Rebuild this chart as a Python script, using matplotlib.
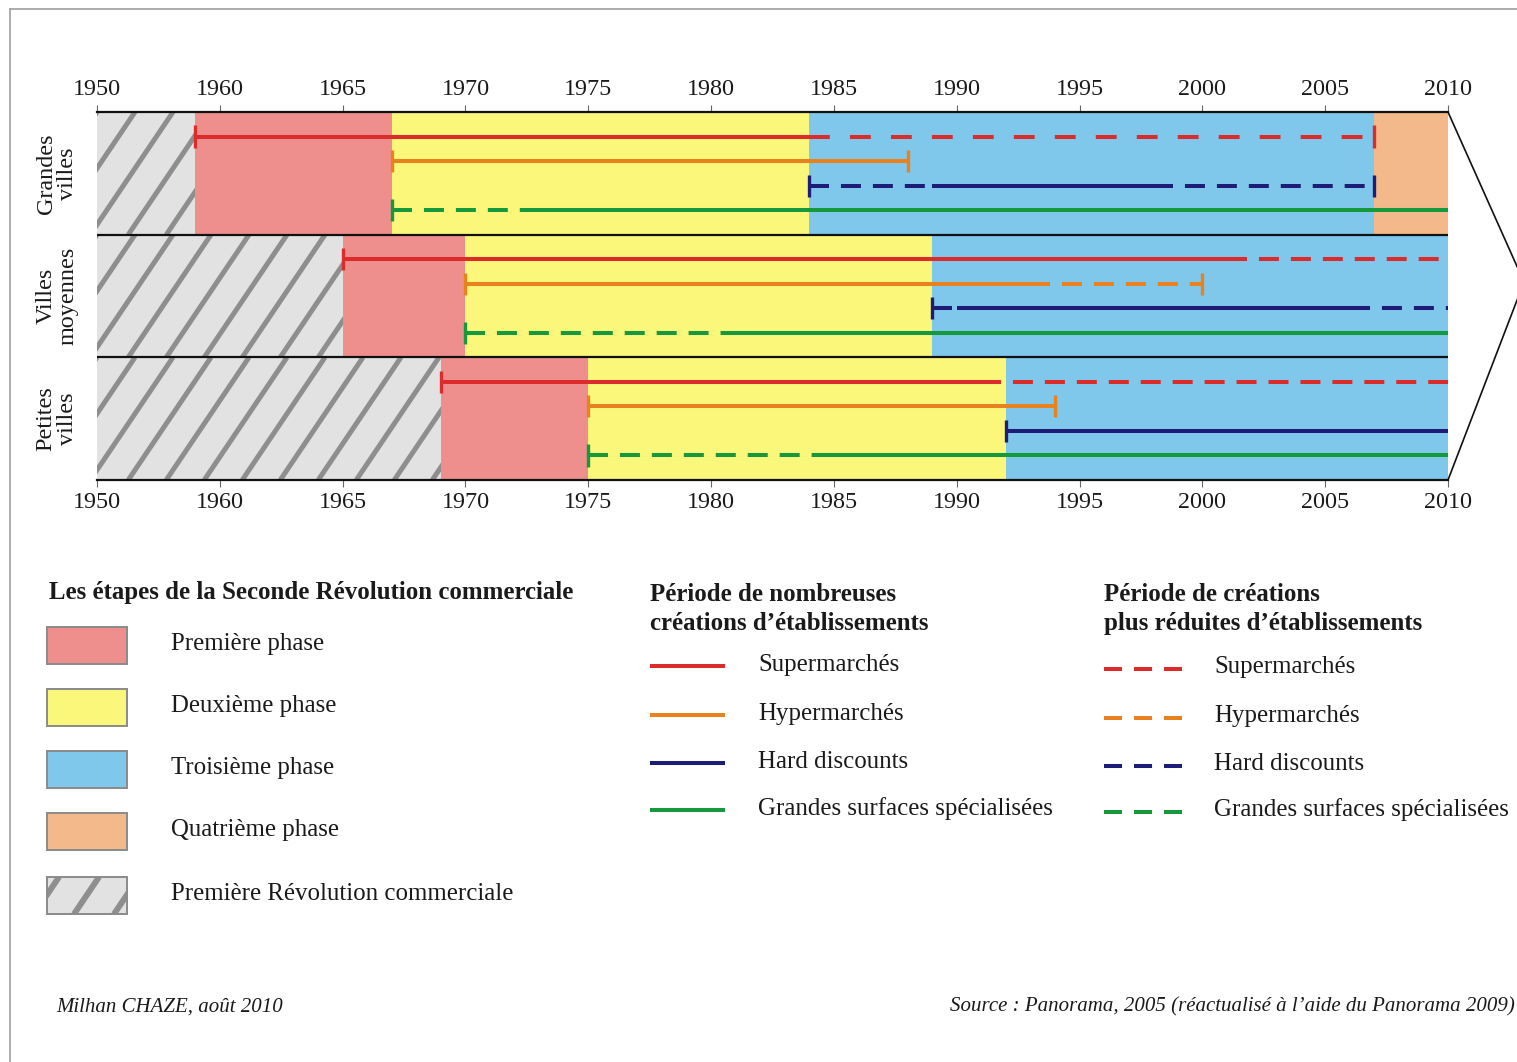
import numpy as np
import matplotlib
matplotlib.use("Agg")
import matplotlib.pyplot as plt
from matplotlib.patches import Rectangle
from matplotlib.lines import Line2D
from matplotlib.transforms import IdentityTransform, blended_transform_factory

plt.rcParams['font.family'] = ['Liberation Serif', 'DejaVu Serif']
plt.rcParams['lines.scale_dashes'] = False

# ---------------- data ----------------
tick_years = [1955, 1960, 1965, 1970, 1975, 1980, 1985, 1990, 1995, 2000, 2005, 2010]
tick_labels = ['1950', '1960', '1965', '1970', '1975', '1980', '1985', '1990',
               '1995', '2000', '2005', '2010']
start_year = 1955
end_year = 2010

cities = ['Grandes\nvilles', 'Villes\nmoyennes', 'Petites\nvilles']
first_revolution_end = [1959, 1965, 1969]
phase1_end = [1967, 1970, 1975]
phase2_end = [1984, 1989, 1992]
phase3_end = [2007, 2010, 2010]

# segments per city: (start, end, style)
supermarches = [[(1959, 1984, 'solid'), (1984, 2007, 'dashed_wide')],
                [(1965, 2001, 'solid'), (2001, 2010, 'dashed')],
                [(1969, 1991, 'solid'), (1991, 2010, 'dashed')]]
hypermarches = [[(1967, 1988, 'solid')],
                [(1970, 1993, 'solid'), (1993, 2000, 'dashed')],
                [(1975, 1994, 'solid')]]
hard_discounts = [[(1984, 1989, 'dashed'), (1989, 1998, 'solid'), (1998, 2007, 'dashed')],
                  [(1989, 1990, 'dashed'), (1990, 2006, 'solid'), (2006, 2010, 'dashed')],
                  [(1992, 2010, 'solid')]]
grandes_surfaces = [[(1967, 1972.5, 'dashed'), (1972.5, 2010, 'solid')],
                    [(1970, 1981, 'dashed'), (1981, 2010, 'solid')],
                    [(1975, 1984.5, 'dashed'), (1984.5, 2010, 'solid')]]

series_names = ['Supermarchés', 'Hypermarchés', 'Hard discounts', 'Grandes surfaces spécialisées']
phase_names = ['Première phase', 'Deuxième phase', 'Troisième phase', 'Quatrième phase',
               'Première Révolution commerciale']

# ---------------- styles ----------------
PINK = '#ef8f8d'
YELLOW = '#fbf77b'
BLUE = '#7fc8ec'
PEACH = '#f3b98a'
HATCH_BG = '#e2e2e2'
STRIPE = '#8e8e8e'
RED = '#dc2b2b'
ORANGE = '#e8821e'
NAVY = '#1d1d78'
GREEN = '#16993c'
TXT = '#1a1a1a'
series_colors = [RED, ORANGE, NAVY, GREEN]
series_data = [supermarches, hypermarches, hard_discounts, grandes_surfaces]

LW = 2.9
DASH_STYLES = {'dashed': (14.4, 8.6), 'dashed_wide': (15.0, 14.5)}
STRIPE_ANGLE = np.radians(56)

W, H = 1517, 1062
fig = plt.figure(figsize=(W / 100, H / 100), dpi=100)
ax = fig.add_axes([97 / W, 1 - 480 / H, 1351 / W, 368 / H])
ax.set_xlim(start_year, end_year)
ax.set_ylim(len(cities), 0)

n = len(cities)
ypos = np.arange(n) + 0.5
fr = np.array(first_revolution_end, float)
p1 = np.array(phase1_end, float)
p2 = np.array(phase2_end, float)
p3 = np.array(phase3_end, float)

hatch_bars = ax.barh(ypos, fr - start_year, left=start_year, height=1.0,
                     color=HATCH_BG, edgecolor='none', zorder=1)
ax.barh(ypos, p1 - fr, left=fr, height=1.0, color=PINK, edgecolor='none', zorder=1)
ax.barh(ypos, p2 - p1, left=p1, height=1.0, color=YELLOW, edgecolor='none', zorder=1)
ax.barh(ypos, p3 - p2, left=p2, height=1.0, color=BLUE, edgecolor='none', zorder=1)
ax.barh(ypos, end_year - p3, left=p3, height=1.0, color=PEACH, edgecolor='none', zorder=1)


def add_stripes(axes, patch, spacing, lw, transform_fn, offset=0.0):
    x0, y0 = patch.get_x(), patch.get_y()
    x1, y1 = x0 + patch.get_width(), y0 + patch.get_height()
    (px0, py0), (px1, py1) = transform_fn([(x0, y0), (x1, y1)])
    ylo, yhi = sorted([py0, py1])
    xlo, xhi = sorted([px0, px1])
    run = (yhi - ylo) / np.tan(STRIPE_ANGLE)
    for xs in np.arange(xlo - run - spacing + offset, xhi + spacing, spacing):
        ln = Line2D([xs, xs + run], [ylo, yhi], transform=IdentityTransform(),
                    color=STRIPE, lw=lw, solid_capstyle='butt', zorder=1.5)
        axes.add_line(ln)
        ln.set_clip_path(patch)


for bar in hatch_bars:
    if bar.get_width() > 0:
        add_stripes(ax, bar, 38, 3.6, ax.transData.transform)

# band separators
for b in range(1, n):
    ax.axhline(b, color='#111111', lw=1.6, zorder=2)

# series lines
cap_half = 0.09
for s, (segs_all, color) in enumerate(zip(series_data, series_colors)):
    row = 0.2 * (s + 1)
    for i in range(n):
        y = i + row
        segs = segs_all[i]
        for (a, b, style) in segs:
            if style == 'solid':
                ax.plot([a, b], [y, y], color=color, lw=LW, solid_capstyle='butt', zorder=3)
            else:
                ax.plot([a, b], [y, y], color=color, lw=LW, dashes=DASH_STYLES[style],
                        dash_capstyle='butt', zorder=3)
        a0 = segs[0][0]
        ax.plot([a0, a0], [y - cap_half, y + cap_half], color=color, lw=2.4,
                solid_capstyle='butt', zorder=3)
        b_last = segs[-1][1]
        if b_last < end_year:
            ax.plot([b_last, b_last], [y - cap_half, y + cap_half], color=color, lw=2.4,
                    solid_capstyle='butt', zorder=3)

# axes styling
for side in ['left', 'right']:
    ax.spines[side].set_visible(False)
for side in ['top', 'bottom']:
    ax.spines[side].set_color('#111111')
    ax.spines[side].set_linewidth(1.6)
ax.set_yticks([])
ax.set_xticks(tick_years)
ax.set_xticklabels(tick_labels)
ax.tick_params(axis='x', top=True, labeltop=True, bottom=True, labelbottom=True,
               direction='out', length=5, width=0.8, color='#666666',
               labelsize=17.4, labelcolor=TXT, pad=3.5)

btrans = blended_transform_factory(ax.transAxes, ax.transData)
for i, name in enumerate(cities):
    ax.text(-0.0296, i + 0.5, name, transform=btrans, rotation=90, ha='center',
            va='center', fontsize=17.4, color=TXT, linespacing=1.05)

# ---------------- overlay (legend, frame, footer) ----------------
ov = fig.add_axes([0, 0, 1, 1], zorder=5)
ov.set_xlim(0, W)
ov.set_ylim(H, 0)
ov.axis('off')
ov.patch.set_alpha(0)

# frame
ov.plot([10, W], [9, 9], color='#a0a0a0', lw=1.2)
ov.plot([10, 10], [9, H], color='#a0a0a0', lw=1.2)

# chevron
ov.plot([1448, 1524, 1448], [112, 282, 480], color='#111111', lw=1.2, clip_on=False)

# legend column 1
ov.text(49, 593, 'Les étapes de la Seconde Révolution commerciale', fontsize=17.9,
        fontweight='bold', ha='left', va='center', color=TXT)
swatch_colors = [PINK, YELLOW, BLUE, PEACH, HATCH_BG]
swatch_tops = [627, 689, 751, 813, 877]
for name, col, top in zip(phase_names, swatch_colors, swatch_tops):
    if col == HATCH_BG:
        r = Rectangle((47, top), 80, 37, facecolor=col, edgecolor='none', zorder=1)
        ov.add_patch(r)
        add_stripes(ov, r, 40, 4.3, ov.transData.transform, offset=12)
        r2 = Rectangle((47, top), 80, 37, facecolor='none', edgecolor='#8a8a8a', lw=1.4, zorder=3)
        ov.add_patch(r2)
    else:
        r = Rectangle((47, top), 80, 37, facecolor=col, edgecolor='#8a8a8a', lw=1.4, zorder=2)
        ov.add_patch(r)
    ov.text(171, top + 17, name, fontsize=17.9, ha='left', va='center', color=TXT)

# legend column 2
ov.text(650, 609, 'Période de nombreuses\ncréations d’établissements', fontsize=17.9,
        fontweight='bold', ha='left', va='center', color=TXT, linespacing=1.28)
for k, (name, col) in enumerate(zip(series_names, series_colors)):
    y = [666, 715, 763, 810][k]
    ov.plot([650, 725], [y, y], color=col, lw=LW, solid_capstyle='butt')
    ov.text(758, y - 1, name, fontsize=17.9, ha='left', va='center', color=TXT)

# legend column 3
ov.text(1104, 609, 'Période de créations\nplus réduites d’établissements', fontsize=17.9,
        fontweight='bold', ha='left', va='center', color=TXT, linespacing=1.28)
for k, (name, col) in enumerate(zip(series_names, series_colors)):
    y = [669, 718, 766, 812][k]
    ov.plot([1104, 1182], [y, y], color=col, lw=LW, dashes=(13, 8.6), dash_capstyle='butt')
    ov.text(1214, y - 2, name, fontsize=17.9, ha='left', va='center', color=TXT)

# footer
ov.text(56, 1007, 'Milhan CHAZE, août 2010', fontsize=15, style='italic',
        ha='left', va='center', color=TXT)
ov.text(1515, 1007, 'Source : Panorama, 2005 (réactualisé à l’aide du Panorama 2009)',
        fontsize=15, style='italic', ha='right', va='center', color=TXT)

fig.savefig('out.png', dpi=100, facecolor='white')
